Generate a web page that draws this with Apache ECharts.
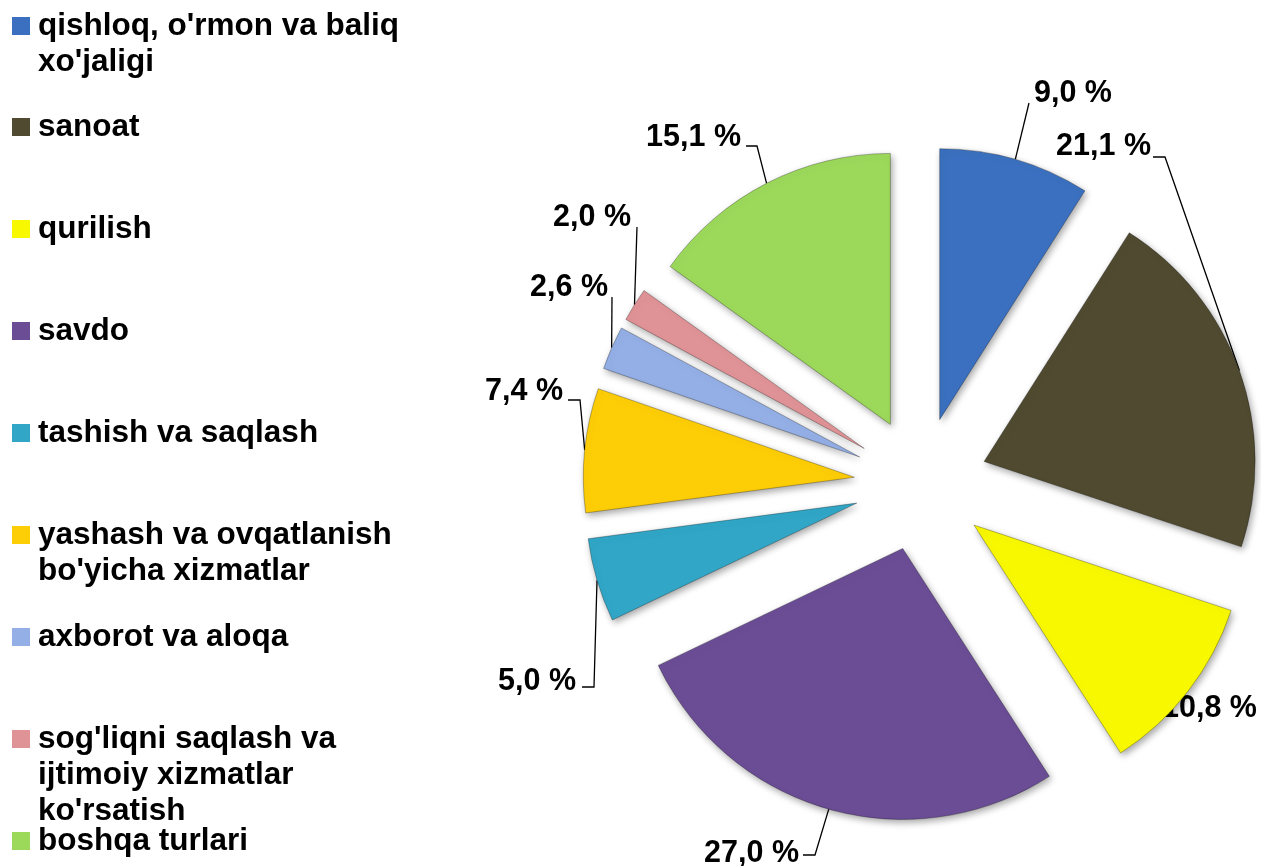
<!DOCTYPE html>
<html><head><meta charset="utf-8">
<script src="https://cdn.jsdelivr.net/npm/echarts@6/dist/echarts.min.js"></script>
<style>html,body{margin:0;padding:0;background:#fff}#c{width:1261px;height:866px}</style>
</head><body><div id="c"></div>
<script>
// ---- data ----
const categories = [
  "qishloq, o'rmon va baliq\nxo'jaligi",
  "sanoat",
  "qurilish",
  "savdo",
  "tashish va saqlash",
  "yashash va ovqatlanish\nbo'yicha xizmatlar",
  "axborot va aloqa",
  "sog'liqni saqlash va\nijtimoiy xizmatlar\nko'rsatish",
  "boshqa turlari"
];
const shares = [9.0, 21.1, 10.8, 27.0, 5.0, 7.4, 2.6, 2.0, 15.1];

// ---- style / layout ----
const colors = ['#3a70bf', '#4f4a30', '#f8f800', '#6b4d96', '#31a6c6', '#fdcd06', '#93afe5', '#e09396', '#9cd85a'];
const FONT = "'Liberation Sans', Arial, sans-serif";
const CENTER = [921, 484];
const RADIUS = 271;
const EXPLODE = 67;
// label text anchor: [x, y, align]
const labelPos = [
  [1034, 93.5, 'left'],
  [1151, 146.5, 'right'],
  [1162, 708.5, 'left'],
  [799, 853.5, 'right'],
  [576, 681.5, 'right'],
  [563, 391.5, 'right'],
  [608, 287.5, 'right'],
  [631, 217.5, 'right'],
  [741, 137.5, 'right']
];
// leader line elbow (x,y) and end at label (x,y)
const leader = [
  [1029, 103, 1029, 103],
  [1165, 157, 1153, 157],
  null,
  [815, 855, 803, 855],
  [594, 687, 582, 687],
  [580, 400, 568, 400],
  [612, 297, 612, 297],
  [637, 227, 637, 227],
  [757, 146, 746, 146]
];

const slice = {
  borderWidth: 1, borderColor: 'rgba(0,0,0,0.28)',
  shadowBlur: 7, shadowOffsetX: 2, shadowOffsetY: 3, shadowColor: 'rgba(0,0,0,0.35)'
};

const LH = 36;
const legends = categories.map((name, i) => {
  const n = name.split('\n').length;
  return {
    data: [name], orient: 'vertical', left: 12,
    top: Math.round(23 + 101.9 * i - 15.5 - (n - 1) * LH), padding: 0,
    itemWidth: 18, itemHeight: 18, icon: 'rect', selectedMode: false,
    itemStyle: { borderWidth: 0, shadowBlur: 0, shadowOffsetX: 0, shadowOffsetY: 0 },
    formatter: nm => nm.split('\n').map(s => '{t|' + s + '}').join('\n'),
    textStyle: {
      padding: [(n - 1) * LH, 0, 0, 3],
      fontSize: 31.5, fontWeight: 'bold', fontFamily: FONT, color: '#000', lineHeight: LH,
      rich: { t: { fontSize: 31.5, fontWeight: 'bold', fontFamily: FONT, color: '#000', lineHeight: LH } }
    }
  };
});

const chart = echarts.init(document.getElementById('c'), null, { renderer: 'canvas' });
chart.setOption({
  backgroundColor: '#fff',
  animation: false,
  legend: legends,
  series: [{
    // exploded slices
    type: 'pie',
    center: CENTER,
    radius: RADIUS,
    startAngle: 90,
    clockwise: true,
    selectedMode: 'multiple',
    selectedOffset: EXPLODE,
    avoidLabelOverlap: false,
    silent: true,
    itemStyle: slice,
    select: { itemStyle: slice },
    label: { show: false },
    labelLine: { show: false },
    data: categories.map((name, i) => ({
      name: name, value: shares[i], selected: true,
      itemStyle: { color: colors[i] }
    }))
  }, {
    // labels + leader lines (same layout, invisible sectors)
    type: 'pie',
    center: CENTER,
    radius: RADIUS,
    startAngle: 90,
    clockwise: true,
    avoidLabelOverlap: false,
    silent: true,
    itemStyle: { color: 'rgba(0,0,0,0)', borderWidth: 0, shadowBlur: 0 },
    label: {
      show: true, position: 'outside',
      fontSize: 30.5, fontWeight: 'bold', fontFamily: FONT, color: '#000',
      formatter: p => shares[p.dataIndex].toFixed(1).replace('.', ',') + ' %'
    },
    labelLine: { show: true, length: 15, length2: 10, lineStyle: { color: '#000', width: 1.3 } },
    labelLayout: function (p) {
      const i = p.dataIndex;
      const lp = labelPos[i];
      const out = { x: lp[0], y: lp[1], align: lp[2], verticalAlign: 'middle' };
      const pts = p.labelLinePoints;
      const ld = leader[i];
      if (pts && pts.length >= 2 && ld) {
        const vx = pts[1][0] - pts[0][0], vy = pts[1][1] - pts[0][1];
        const len = Math.hypot(vx, vy) || 1;
        const ox = vx / len * EXPLODE, oy = vy / len * EXPLODE;
        out.labelLinePoints = [[pts[0][0] + ox, pts[0][1] + oy], [ld[0], ld[1]], [ld[2], ld[3]]];
      }
      return out;
    },
    data: categories.map((name, i) => ({
      name: name, value: shares[i],
      labelLine: { show: leader[i] !== null }
    }))
  }]
});
</script>
</body></html>
